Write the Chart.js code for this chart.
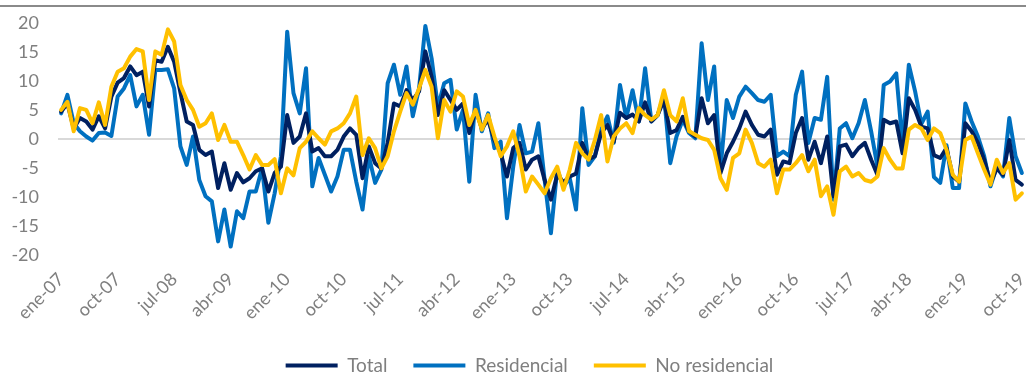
<!DOCTYPE html>
<html lang="es">
<head>
  <meta charset="UTF-8">
  <title>Total, Residencial, No residencial</title>
  <script src="https://cdn.jsdelivr.net/npm/chart.js"></script>
  <style>
    html, body { margin: 0; padding: 0; background: #fff; }
    #wrap { position: relative; width: 1026px; height: 375px; }
    #topline { position: absolute; left: 0; top: 5px; width: 1026px; height: 2px; background: #8a8a8a; }
    #chart { position: absolute; left: 0; top: 0; }
  </style>
</head>
<body>
  <div id="wrap">
    <div id="topline"></div>
    <canvas id="chart" width="1026" height="375"></canvas>
  </div>

  <script>
    // months ene-07 .. oct-19
    const meses = ['ene', 'feb', 'mar', 'abr', 'may', 'jun', 'jul', 'ago', 'sep', 'oct', 'nov', 'dic'];
    const firstYear = 2007;
    const nMonths = 154;

    const total = [
      4.7, 6.1, 1.8, 3.6, 3.0, 1.6, 3.9, 1.8, 7.3, 9.7, 10.5, 12.5, 11.0, 11.6, 5.6, 13.6, 13.3, 15.9, 13.3, 8.0,
      3.0, 2.4, -1.9, -2.8, -2.2, -8.5, -4.2, -8.8, -5.9, -7.5, -6.8, -5.6, -5.1, -9.1, -5.9, -4.8, 4.1, -0.7, 0.4, 4.4,
      -2.2, -1.6, -3.0, -3.0, -1.9, 0.4, 1.8, 0.7, -6.8, -1.3, -4.2, -5.1, -0.7, 6.1, 5.6, 8.4, 6.7, 8.2, 15.1, 10.7,
      4.1, 8.4, 6.7, 5.0, 6.1, 1.0, 5.0, 1.8, 3.3, -0.2, -2.5, -6.5, -1.6, -0.7, -5.3, -3.6, -3.0, -7.1, -10.5, -6.2,
      -7.5, -6.5, -6.0, -0.7, -3.5, -3.0, 1.0, 2.4, -0.5, 4.5, 3.6, 4.2, 3.0, 6.3, 3.0, 4.1, 6.7, 1.0, 1.5, 3.8,
      1.3, 0.4, 7.0, 2.7, 4.1, -5.9, -2.5, -0.5, 1.8, 4.7, 2.4, 0.7, 0.4, 1.6, -6.2, -3.9, -4.2, 1.0, 3.6, -3.6,
      -0.5, -4.2, 0.4, -9.9, -1.3, -1.0, -3.0, -1.6, -0.7, -3.6, -6.2, 3.3, 2.7, 3.0, -2.5, 7.0, 5.0, 2.1, 1.8, -2.8,
      -3.3, -1.6, -6.5, -7.4, 2.7, 1.3, -0.7, -3.6, -7.6, -5.1, -6.2, -0.2, -7.1, -7.9
    ];

    const residencial = [
      4.4, 7.6, 2.7, 1.3, 0.4, -0.3, 1.0, 1.1, 0.5, 7.3, 8.7, 11.0, 5.6, 7.6, 0.7, 11.9, 11.9, 12.0, 8.7, -1.3,
      -4.5, 0.4, -7.1, -9.9, -10.8, -17.7, -12.2, -18.6, -12.5, -13.7, -9.1, -9.1, -5.1, -14.5, -9.4, -3.0, 18.5, 7.9, 4.4, 12.2,
      -8.2, -3.3, -6.2, -9.1, -6.5, -1.9, -1.9, -7.4, -12.2, -3.0, -7.6, -5.3, 9.6, 12.8, 7.6, 12.5, 3.9, 8.7, 19.5, 13.9,
      5.5, 9.6, 10.2, 1.6, 5.0, -7.4, 7.6, 1.3, 4.4, -1.6, -0.5, -13.7, -4.8, 2.4, -2.5, -2.2, 2.7, -7.1, -16.3, -5.3,
      -8.2, -6.8, -12.2, 5.3, -4.5, -3.0, 1.6, 3.9, -0.7, 9.3, 3.6, 8.4, 3.0, 12.2, 3.0, 4.1, 7.6, -4.2, 0.4, 3.3,
      1.0, 0.1, 16.5, 6.7, 12.5, -5.3, 6.7, 3.6, 7.3, 9.0, 7.9, 6.7, 6.4, 7.6, -3.0, -2.2, -3.0, 7.6, 11.6, -0.7,
      3.6, 3.3, 10.7, -10.5, 1.8, 2.7, 0.1, 2.7, 6.7, 1.3, -4.8, 9.3, 9.9, 11.3, -1.0, 12.8, 8.2, 2.6, 4.7, -6.6,
      -7.6, -1.1, -8.5, -8.5, 6.1, 3.0, 0.4, -3.0, -8.2, -4.8, -6.5, 3.6, -3.0, -5.9
    ];

    const noResidencial = [
      5.0, 6.4, 1.3, 5.3, 5.0, 2.7, 6.3, 2.4, 9.0, 11.6, 12.2, 14.2, 15.5, 15.1, 6.7, 15.1, 14.5, 18.9, 16.8, 9.3,
      6.7, 5.0, 2.1, 2.7, 4.4, -0.2, 2.4, -0.5, -0.5, -2.8, -5.3, -2.8, -4.5, -4.5, -3.5, -9.4, -5.1, -6.3, -1.6, -0.5,
      1.3, 0.1, -1.0, 1.3, 1.8, 2.7, 4.4, 7.3, -2.8, 0.1, -1.6, -5.1, -3.0, 1.3, 4.7, 7.9, 5.9, 8.7, 11.9, 9.0,
      0.1, 6.7, 4.7, 8.2, 7.3, 2.4, 5.0, 1.6, 4.1, 0.4, -3.0, -1.3, 1.3, -3.0, -9.1, -6.5, -7.9, -9.4, -6.8, -4.8,
      -8.8, -5.3, -0.7, -2.5, -3.6, -0.2, 4.1, -3.9, 0.4, 1.8, 2.7, 1.0, 5.3, 4.1, 3.3, 4.1, 8.4, 4.1, 3.0, 7.0,
      1.3, 0.7, 0.1, -0.2, -1.9, -6.8, -8.8, -3.3, -2.5, 1.6, -0.7, -4.2, -4.8, -3.6, -9.4, -5.3, -5.3, -4.2, -2.8, -5.6,
      -3.6, -9.9, -8.2, -13.1, -5.6, -4.8, -6.5, -5.9, -7.1, -7.4, -6.5, -1.6, -3.6, -5.1, -5.1, 1.6, 2.4, 1.8, -0.2, 1.8,
      1.0, -1.9, -6.2, -7.4, -0.2, 0.4, -2.5, -5.3, -7.9, -3.6, -5.9, -4.2, -10.5, -9.4
    ];

    const labels = [];
    for (let i = 0; i < nMonths; i++) {
      const yy = String((firstYear + Math.floor(i / 12)) % 100).padStart(2, '0');
      labels.push(meses[i % 12] + '-' + yy);
    }

    const gray = '#7f7f7f';
    const font = 'Lato, "Open Sans", sans-serif';

    // nudge the legend a little to the right, like the original
    const legendShift = {
      id: 'legendShift',
      afterLayout(chart) {
        chart.legend.left += 15;
        chart.legend.right += 15;
      },
    };

    const ctx = document.getElementById('chart').getContext('2d');
    new Chart(ctx, {
      type: 'line',
      data: {
        labels: labels,
        datasets: [
          { label: 'Total', data: total, borderColor: '#002060', backgroundColor: '#002060', borderWidth: 4, order: 1 },
          { label: 'Residencial', data: residencial, borderColor: '#0070c0', backgroundColor: '#0070c0', borderWidth: 4, order: 2 },
          { label: 'No residencial', data: noResidencial, borderColor: '#ffc000', backgroundColor: '#ffc000', borderWidth: 4, order: 0 },
        ],
      },
      options: {
        responsive: false,
        animation: false,
        elements: {
          line: { tension: 0, borderCapStyle: 'round', borderJoinStyle: 'round' },
          point: { radius: 0, hoverRadius: 0 },
        },
        layout: { padding: { left: 4, right: 1, top: 23, bottom: -10 } },
        scales: {
          x: {
            offset: true,
            grid: { display: false },
            border: { display: false },
            afterFit: (s) => { s.paddingLeft = 0; s.paddingRight = 0; },
            ticks: {
              autoSkip: false,
              minRotation: 45,
              maxRotation: 45,
              padding: 6,
              color: gray,
              font: { family: font, size: 18 },
              callback: function (v, i) { return i % 9 === 0 ? this.getLabelForValue(v) : ''; },
            },
          },
          y: {
            min: -20,
            max: 20,
            border: { display: false },
            afterFit: (s) => { s.width = 54; s.paddingTop = 0; s.paddingBottom = 0; },
            grid: {
              drawTicks: false,
              color: (c) => (c.tick && c.tick.value === 0 ? '#d9d9d9' : 'rgba(0,0,0,0)'),
              lineWidth: 2,
            },
            ticks: {
              stepSize: 5,
              padding: 19,
              color: gray,
              font: { family: font, size: 18 },
            },
          },
        },
        plugins: {
          tooltip: { enabled: false },
          legend: {
            position: 'bottom',
            labels: {
              usePointStyle: true,
              pointStyle: 'line',
              pointStyleWidth: 52,
              boxHeight: 19,
              padding: 26,
              color: gray,
              font: { family: font, size: 19 },
              sort: (a, b) => a.datasetIndex - b.datasetIndex,
            },
          },
        },
      },
      plugins: [legendShift],
    });
  </script>
</body>
</html>
